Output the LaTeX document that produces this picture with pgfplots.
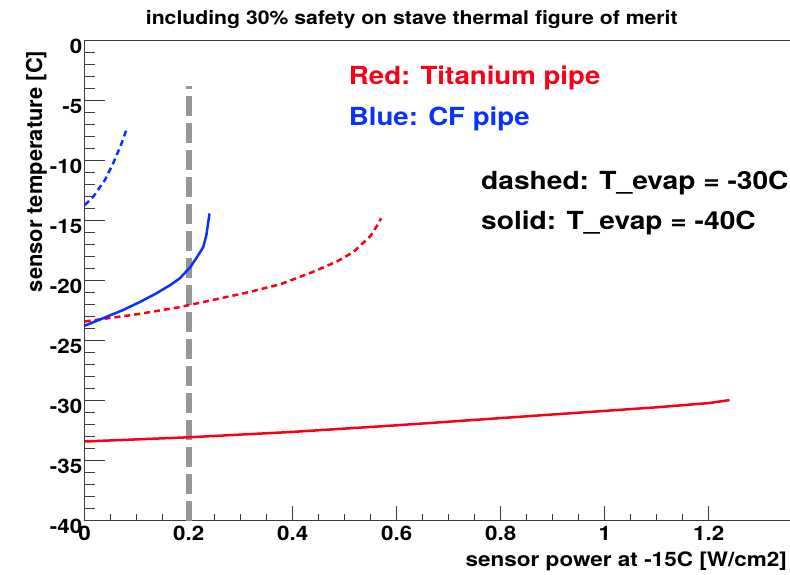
\documentclass[border=0pt]{standalone}
\usepackage{fontspec}
\setmainfont{TeX Gyre Heros}
\usepackage{pgfplots}
\pgfplotsset{compat=1.18}
\definecolor{rootred}{RGB}{250,0,20}
\definecolor{rootblue}{RGB}{10,50,255}
\definecolor{cutgray}{RGB}{150,150,150}
\definecolor{framec}{RGB}{60,60,60}

\begin{document}
\begin{tikzpicture}
\begin{axis}[
  name=ax,
  scale only axis,
  width=712.4bp, height=480bp,
  xmin=0, xmax=1.37, ymin=-40, ymax=0,
  xtick={0,0.2,0.4,0.6,0.8,1,1.2},
  xticklabels={0,0.2,0.4,0.6,0.8,1,1.2},
  minor x tick num=3,
  ytick={-40,-35,-30,-25,-20,-15,-10,-5,0},
  yticklabels={-40,-35,-30,-25,-20,-15,-10,-5,0},
  minor y tick num=4,
  tick align=inside,
  xtick pos=left, ytick pos=left,
  axis line style={line width=1.5bp, framec},
  every tick/.style={line width=1.3bp, framec},
  xtick style={/pgfplots/major tick length=14.7bp, /pgfplots/minor tick length=7bp},
  ytick style={/pgfplots/major tick length=20bp, /pgfplots/minor tick length=10bp},
  tick label style={font=\bfseries\fontsize{20}{20}\selectfont, xscale=1.12},
  xticklabel style={inner sep=1bp, yshift=-4bp},
  yticklabel style={inner sep=2bp, yshift=-6bp},
  clip=false,
]
% reference line at 0.2 W/cm2
\addplot[cutgray, line width=6bp, dash pattern=on 20bp off 7bp] coordinates {(0.2,-40) (0.2,-3.8)};

% Titanium pipe, T_evap = -40C
\addplot[rootred, line width=2.5bp] coordinates {
(0,-33.4) (0.2,-33.05) (0.4,-32.6) (0.6,-32.05) (0.8,-31.45) (1.0,-30.85) (1.1,-30.55) (1.2,-30.2) (1.24,-29.95)};
% Titanium pipe, T_evap = -30C
\addplot[rootred, line width=2.5bp, dash pattern=on 6bp off 4bp] coordinates {
(0,-23.4) (0.1,-22.8) (0.183,-22.2) (0.247,-21.6) (0.311,-21.0) (0.376,-20.3) (0.44,-19.25) (0.485,-18.4) (0.517,-17.6) (0.549,-16.3) (0.561,-15.5) (0.570,-14.8)};
% CF pipe, T_evap = -40C
\addplot[rootblue, line width=2.5bp] coordinates {
(0,-23.75) (0.037,-23.1) (0.074,-22.44) (0.105,-21.8) (0.138,-21.05) (0.165,-20.35) (0.183,-19.8) (0.2025,-18.9) (0.215,-18.1) (0.228,-17.2) (0.234,-16.2) (0.24,-14.4)};
% CF pipe, T_evap = -30C
\addplot[rootblue, line width=2.5bp, dash pattern=on 6bp off 4bp] coordinates {
(0,-13.7) (0.0165,-13.0) (0.039,-11.6) (0.055,-10.2) (0.071,-8.55) (0.081,-7.3)};

\node[anchor=base, xscale=1.12, font=\bfseries\fontsize{19}{19}\selectfont] at (axis cs:0.629,1.39) {including 30\% safety on stave thermal figure of merit};
\node[anchor=base west, xscale=1.11, text=rootred, font=\bfseries\fontsize{25}{25}\selectfont] at (axis cs:0.5006,-3.69) {Red: Titanium pipe};
\node[anchor=base west, xscale=1.11, text=rootblue, font=\bfseries\fontsize{25}{25}\selectfont] at (axis cs:0.5006,-7.03) {Blue: CF pipe};
\node[anchor=base west, inner sep=0pt, xscale=1.13, font=\bfseries\fontsize{25}{25}\selectfont] at (axis cs:0.762,-12.38) {dashed: T\_evap = -30C};
\node[anchor=base west, inner sep=0pt, xscale=1.13, font=\bfseries\fontsize{25}{25}\selectfont] at (axis cs:0.762,-15.72) {solid: T\_evap = -40C};
\node[anchor=base east, xscale=1.13, font=\bfseries\fontsize{20}{20}\selectfont] at (axis cs:1.358,-43.83) {sensor power at -15C [W/cm2]};
\node[rotate=90, anchor=base east, font=\bfseries\fontsize{22}{22}\selectfont] at (axis cs:-0.0821,-0.55) {sensor temperature [C]};
\end{axis}
\pgfresetboundingbox
\path[use as bounding box] ([shift={(-84.7bp,-54.3bp)}]ax.south west) rectangle ++(790bp,575bp);
\end{tikzpicture}
\end{document}
